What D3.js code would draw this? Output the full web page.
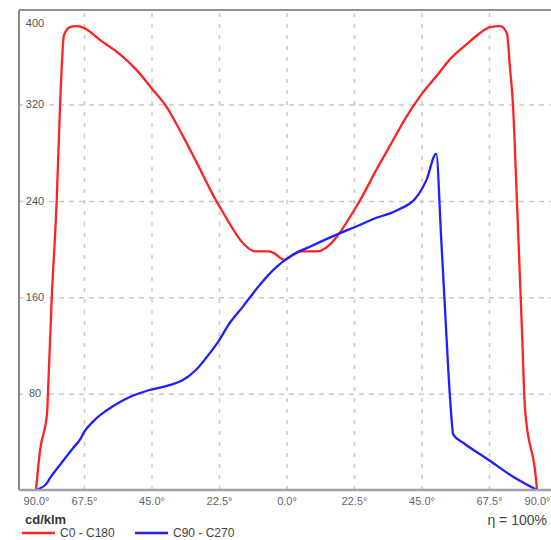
<!DOCTYPE html>
<html>
<head>
<meta charset="utf-8">
<script src="https://cdn.jsdelivr.net/npm/d3@7"></script>
<style>
  body { margin: 0; background: #fff; }
  svg { font-family: "Liberation Sans", Arial, sans-serif; }
</style>
</head>
<body>
<div id="chart"></div>
<script>
// angles (deg) and intensities (cd/klm)
const redAngles = [-90, -88.1, -84.8, -84.4, -82.6, -80.3, -78.7, -76.9, -74, -71, -68.4, -62, -55, -50, -45, -40, -35, -30, -22.5, -10.1, -6.2, -4.5, -0.7, 2.1, 4.3, 9.9, 24.4, 30, 35, 40, 45, 50, 55, 60, 64, 68, 72.7, 75.9, 77.3, 78.7, 80.6, 83, 84.4, 89.6, 90];
const redValues = [0, 33, 64, 80, 160, 240, 320, 388, 396, 397, 396, 383, 368, 354, 336, 318, 296, 272, 236, 198, 198, 197, 191, 195, 198, 198, 240, 266, 288, 310, 330, 348, 366, 379, 389, 396, 397, 390, 357, 321, 240, 130, 67, 8, 0];

const blueAngles = [-90, -85, -83.4, -78.7, -72.5, -69.3, -67.5, -64, -60, -55.5, -52.4, -45.7, -39, -34.7, -30.2, -25.75, -22.4, -19.1, -14.6, -9, -3.4, 1, 8.7, 17.7, 24.4, 28.9, 36.7, 43.9, 46.6, 49.9, 51.6, 52.8, 54.5, 55.6, 59, 66.8, 78.8, 90];
const blueValues = [0, 5.5, 10, 21, 35, 42, 48, 58, 66, 73, 77, 83, 87, 91, 99.6, 113, 124.5, 138, 152, 170, 185, 193.5, 203, 213, 220, 225, 232, 245, 257, 279, 207, 152, 77, 46, 39, 26, 11, 0];

const xTicks = [-90, -67.5, -45, -22.5, 0, 22.5, 45, 67.5, 90];
const yTicks = [80, 160, 240, 320, 400];
const seriesNames = ["C0 - C180", "C90 - C270"];
const seriesColors = ["#ff2222", "#1f1fff"];

const W = 551, H = 540;
const frame = { left: 19, top: 10, bottom: 490, right: 551 };

const svg = d3.select("#chart").append("svg")
    .attr("width", W)
    .attr("height", H);

// the outer segments are drawn squeezed, like in the original software
const x = d3.scaleLinear()
    .domain([-90, -67.5, 67.5, 90])
    .range([36, 84, 489, 537]);

const y = d3.scaleLinear()
    .domain([0, 320, 400])
    .range([frame.bottom, 104.5, 23]);

// grid
svg.append("g")
    .attr("class", "grid grid-x")
    .attr("transform", "translate(0," + frame.bottom + ")")
    .call(d3.axisBottom(x)
        .tickValues(xTicks.slice(1, -1))
        .tickSize(-(frame.bottom - frame.top))
        .tickFormat(""));

svg.append("g")
    .attr("class", "grid grid-y")
    .attr("transform", "translate(" + frame.left + ",0)")
    .call(d3.axisLeft(y)
        .tickValues(yTicks.slice(0, -1))
        .tickSize(-(frame.right - frame.left))
        .tickFormat(""));

svg.selectAll(".grid .domain").remove();
svg.selectAll(".grid-x line")
    .attr("stroke", "#c9c9c9")
    .attr("stroke-width", 1.5)
    .attr("stroke-dasharray", "4,7");
svg.selectAll(".grid-y line")
    .attr("stroke", "#c9c9c9")
    .attr("stroke-width", 1.5)
    .attr("stroke-dasharray", "5,5");

// frame
svg.append("line")
    .attr("x1", frame.left).attr("x2", frame.right)
    .attr("y1", frame.top).attr("y2", frame.top)
    .attr("stroke", "#8f8f8f").attr("stroke-width", 2);
svg.append("line")
    .attr("x1", frame.left).attr("x2", frame.left)
    .attr("y1", frame.top).attr("y2", frame.bottom)
    .attr("stroke", "#8a8a8a").attr("stroke-width", 2);

// y labels sit inside the plot on a white patch
const yLab = svg.append("g").selectAll("g")
    .data(yTicks)
    .enter().append("g")
    .attr("transform", function(d) { return "translate(35," + y(d) + ")"; });
yLab.append("rect")
    .attr("x", -12).attr("y", -6)
    .attr("width", 24).attr("height", 12)
    .attr("fill", "#fff");
yLab.append("text")
    .attr("text-anchor", "middle")
    .attr("dy", "0.35em")
    .style("font-size", "11px")
    .attr("fill", "#555")
    .text(function(d) { return d; });

// curves
const line = d3.line()
    .x(function(d) { return x(d[0]); })
    .y(function(d) { return y(d[1]); })
    .curve(d3.curveMonotoneX);

const series = [
    d3.zip(redAngles, redValues),
    d3.zip(blueAngles, blueValues)
];

svg.selectAll(".curve")
    .data(series)
    .enter().append("path")
    .attr("class", "curve")
    .attr("d", line)
    .attr("fill", "none")
    .attr("stroke", function(d, i) { return seriesColors[i]; })
    .attr("stroke-width", 2.3)
    .attr("stroke-linejoin", "round");

// bottom axis
const xAxis = svg.append("g")
    .attr("transform", "translate(0," + frame.bottom + ")")
    .call(d3.axisBottom(x)
        .tickValues(xTicks)
        .tickSize(0)
        .tickPadding(7)
        .tickFormat(function(d) { return Math.abs(d).toFixed(1) + "°"; }));
xAxis.select(".domain").remove();
xAxis.selectAll("text")
    .style("font-size", "11px")
    .style("font-family", "'Liberation Sans', Arial, sans-serif")
    .attr("fill", "#666");

svg.append("line")
    .attr("x1", frame.left).attr("x2", frame.right)
    .attr("y1", frame.bottom).attr("y2", frame.bottom)
    .attr("stroke", "#a49eb4").attr("stroke-width", 2.5);

// unit + efficiency
svg.append("text")
    .attr("x", 25).attr("y", 524)
    .style("font-size", "13px")
    .style("font-weight", "bold")
    .attr("fill", "#333")
    .text("cd/klm");

svg.append("text")
    .attr("x", 547).attr("y", 525)
    .attr("text-anchor", "end")
    .style("font-size", "14px")
    .attr("fill", "#444")
    .text("η = 100%");

// legend
const legend = svg.selectAll(".legend")
    .data(seriesNames)
    .enter().append("g")
    .attr("class", "legend")
    .attr("transform", function(d, i) { return "translate(" + (22 + i * 113) + ",533)"; });

legend.append("line")
    .attr("x1", 0).attr("x2", 33)
    .attr("stroke", function(d, i) { return seriesColors[i]; })
    .attr("stroke-width", 2.3);

legend.append("text")
    .attr("x", 38)
    .attr("dy", "0.35em")
    .style("font-size", "12px")
    .attr("fill", "#444")
    .text(function(d) { return d; });
</script>
</body>
</html>
